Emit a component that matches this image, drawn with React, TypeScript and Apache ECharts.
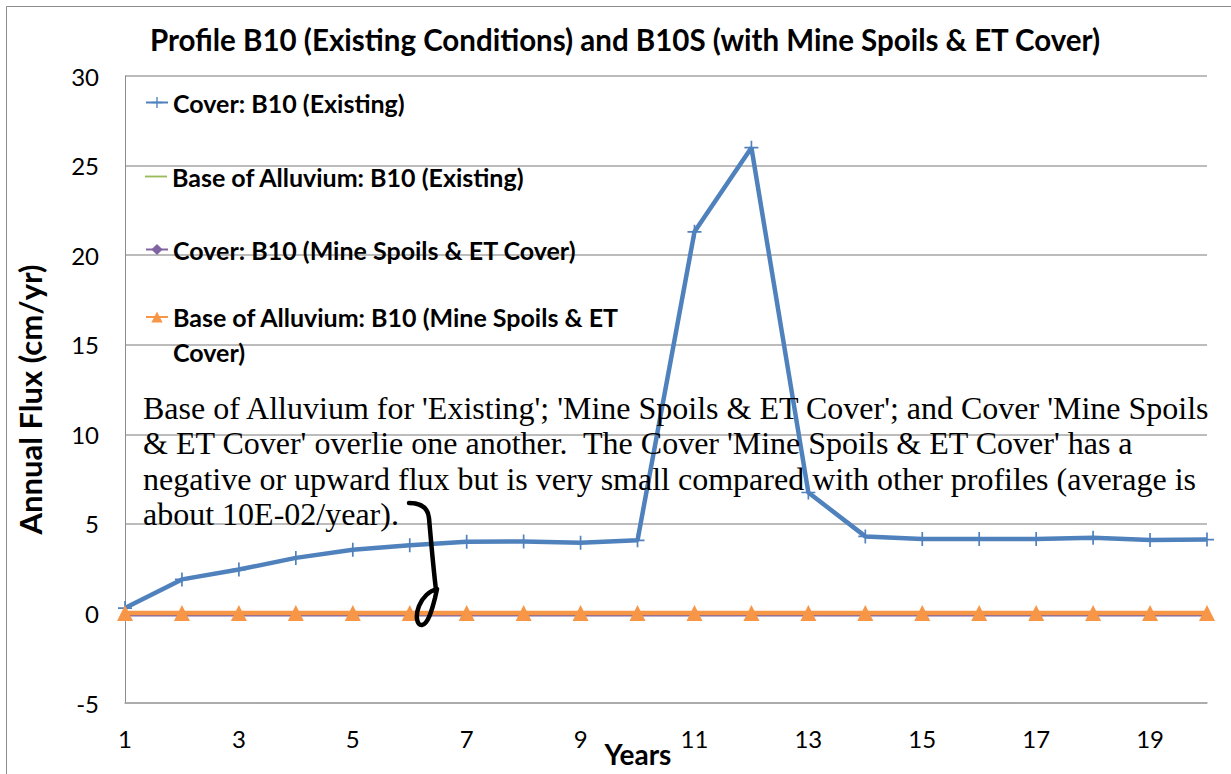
import React, { useEffect, useRef } from "react";
import * as echarts from "echarts";

const years = ["1","2","3","4","5","6","7","8","9","10","11","12","13","14","15","16","17","18","19","20"];
const coverExisting = [0.3, 1.9, 2.45, 3.1, 3.55, 3.8, 4.0, 4.02, 3.95, 4.08, 21.3, 26.0, 6.75, 4.3, 4.15, 4.15, 4.15, 4.22, 4.1, 4.12];
const baseExisting = [0.02, 0.02, 0.02, 0.02, 0.02, 0.02, 0.02, 0.02, 0.02, 0.02, 0.02, 0.02, 0.02, 0.02, 0.02, 0.02, 0.02, 0.02, 0.02, 0.02];
const coverMine = [-0.1, -0.1, -0.1, -0.1, -0.1, -0.1, -0.1, -0.1, -0.1, -0.1, -0.1, -0.1, -0.1, -0.1, -0.1, -0.1, -0.1, -0.1, -0.1, -0.1];
const baseMine = [0.02, 0.02, 0.02, 0.02, 0.02, 0.02, 0.02, 0.02, 0.02, 0.02, 0.02, 0.02, 0.02, 0.02, 0.02, 0.02, 0.02, 0.02, 0.02, 0.02];

const seriesNames = [
  "Cover: B10 (Existing)",
  "Base of Alluvium: B10 (Existing)",
  "Cover: B10 (Mine Spoils & ET Cover)",
  "Base of Alluvium: B10 (Mine Spoils & ET Cover)",
];
const titleText = "Profile B10 (Existing Conditions) and B10S (with Mine Spoils & ET Cover)";
const noteLines = [
  "Base of Alluvium for 'Existing'; 'Mine Spoils & ET Cover'; and Cover 'Mine Spoils",
  "& ET Cover' overlie one another.  The Cover 'Mine Spoils & ET Cover' has a",
  "negative or upward flux but is very small compared with other profiles (average is",
  "about 10E-02/year).",
];

const SANS = "Lato, 'Open Sans', sans-serif";
const PLUS = "path://M-1.2,-10 L1.2,-10 L1.2,-1.2 L10,-1.2 L10,1.2 L1.2,1.2 L1.2,10 L-1.2,10 L-1.2,1.2 L-10,1.2 L-10,-1.2 L-1.2,-1.2 Z";
const DASH = "path://M0,0 L24,0 L24,2 L0,2 Z";

const SCRIBBLE =
  "M409,503 C420,503 428,507 429,518 C431,540 433,565 436,590 C430,590 422,598 419,606 C415,616 417,626 422,625 C428,624 432,610 435,598 L437,589";

let registered = false;

export default function App() {
  const ref = useRef<HTMLDivElement>(null);
  useEffect(() => {
    if (!registered) {
      echarts.graphic.registerShape("scribble", echarts.graphic.extendPath(SCRIBBLE, {}));
      registered = true;
    }
    const chart = echarts.init(ref.current!, undefined, { renderer: "svg" });
    const legendBase = {
      orient: "vertical",
      left: 145,
      padding: 0,
      itemWidth: 22,
      itemHeight: 14,
      textStyle: { fontFamily: SANS, fontWeight: "bold", fontSize: 25, color: "#000", lineHeight: 14 },
    };
    chart.setOption({
      animation: false,
      backgroundColor: "#fff",
      title: {
        text: titleText,
        left: 620,
        textAlign: "center",
        top: 19,
        textStyle: { fontFamily: SANS, fontWeight: "bold", fontSize: 29.5, color: "#000" },
      },
      legend: [
        { ...legendBase, top: 90, data: [seriesNames[0]] },
        { ...legendBase, top: 164, data: [{ name: seriesNames[1], icon: DASH }] },
        { ...legendBase, top: 237, data: [seriesNames[2]] },
        {
          ...legendBase,
          top: 264.5,
          data: [seriesNames[3]],
          formatter: () => "\nBase of Alluvium: B10 (Mine Spoils & ET\nCover)",
          textStyle: { ...legendBase.textStyle, lineHeight: 35 },
        },
      ],
      grid: { left: 125, top: 76, right: 24, bottom: 71, containLabel: false, outerBoundsMode: "none" },
      xAxis: {
        type: "category",
        data: years,
        boundaryGap: false,
        name: "Years",
        nameLocation: "middle",
        nameGap: 37,
        nameMoveOverlap: false,
        nameTextStyle: { fontFamily: SANS, fontWeight: "bold", fontSize: 28, color: "#000", padding: [0, 56, 0, 0] },
        axisLine: { onZero: false, lineStyle: { color: "#a6a6a6", width: 1.5 } },
        axisTick: { show: false },
        axisLabel: { interval: 1, margin: 23, fontFamily: SANS, fontSize: 24, color: "#000" },
        splitLine: { show: false },
      },
      yAxis: {
        type: "value",
        min: -5,
        max: 30,
        interval: 5,
        name: "Annual Flux (cm/yr)",
        nameLocation: "middle",
        nameGap: 80,
        nameRotate: 90,
        nameMoveOverlap: false,
        nameTextStyle: { fontFamily: SANS, fontWeight: "bold", fontSize: 31, color: "#000", padding: [0, 20, 0, 0] },
        axisLine: { show: true, lineStyle: { color: "#8c8c8c", width: 1 } },
        axisTick: { show: false },
        axisLabel: { margin: 26, fontFamily: SANS, fontSize: 24, color: "#000" },
        splitLine: { lineStyle: { color: "#a6a6a6", width: 1.5 } },
      },
      series: [
        {
          name: seriesNames[0],
          type: "line",
          data: coverExisting,
          symbol: PLUS,
          symbolSize: 14,
          color: "#4F81BD",
          lineStyle: { color: "#4F81BD", width: 4.5 },
          itemStyle: { color: "#4F81BD" },
          z: 2,
        },
        {
          name: seriesNames[1],
          type: "line",
          data: baseExisting,
          symbol: "none",
          color: "#9BBB59",
          lineStyle: { color: "#9BBB59", width: 2.5 },
          itemStyle: { color: "#9BBB59" },
          z: 3,
        },
        {
          name: seriesNames[2],
          type: "line",
          data: coverMine,
          symbol: "diamond",
          symbolSize: 7,
          color: "#8064A2",
          lineStyle: { color: "#8064A2", width: 2.5 },
          itemStyle: { color: "#8064A2" },
          z: 4,
        },
        {
          name: seriesNames[3],
          type: "line",
          data: baseMine,
          symbol: "triangle",
          symbolSize: 16,
          color: "#F79646",
          lineStyle: { color: "#F79646", width: 4.5 },
          itemStyle: { color: "#F79646" },
          z: 5,
        },
      ],
      graphic: [
        {
          type: "rect",
          shape: { x: 6.5, y: 6.5, width: 1240, height: 780 },
          style: { fill: "none", stroke: "#8c8c8c", lineWidth: 1 },
          silent: true,
        },
        {
          type: "text",
          left: 143,
          top: 390,
          z: 10,
          style: {
            text: noteLines.join("\n"),
            font: "32px 'Liberation Serif', 'Times New Roman', serif",
            fill: "#000",
            lineHeight: 35.5,
          },
        },
        {
          type: "scribble",
          x: 0,
          y: 0,
          z: 10,
          style: { fill: "none", stroke: "#000", lineWidth: 4.5, lineCap: "round", lineJoin: "round" },
        },
      ],
    });
    return () => chart.dispose();
  }, []);
  return <div ref={ref} style={{ position: "fixed", left: 0, top: 0, width: 1231, height: 774 }} />;
}
